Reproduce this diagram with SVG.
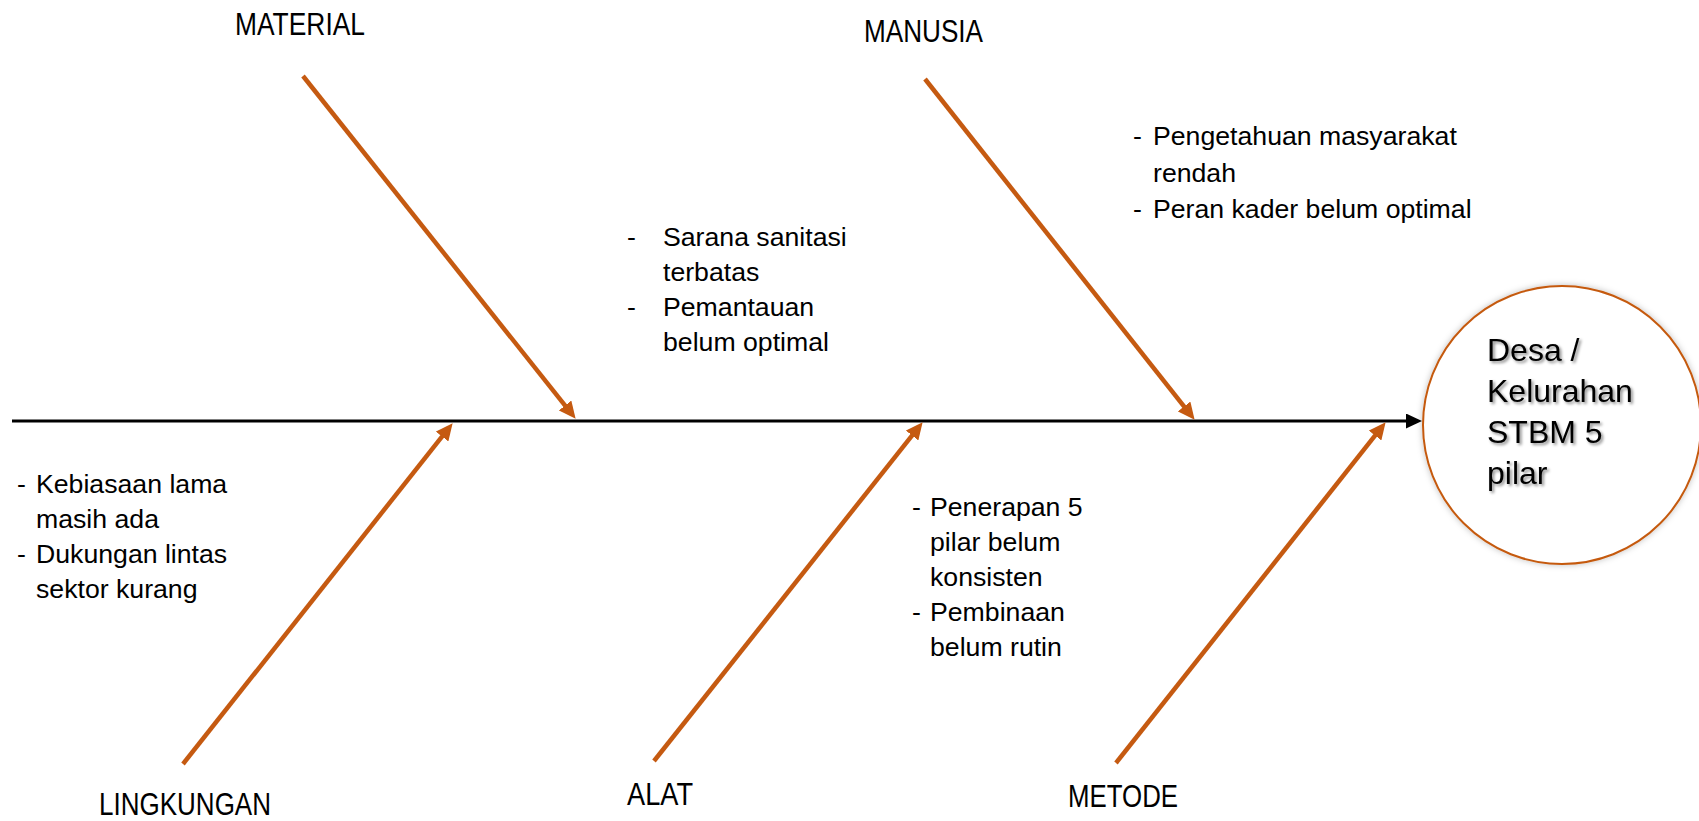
<svg xmlns="http://www.w3.org/2000/svg" width="1699" height="821" viewBox="0 0 1699 821">
  <style>
    .bone { stroke: #C55A11; stroke-width: 4.5; fill: none; marker-end: url(#headOrange); }
    .spine { stroke: #000; stroke-width: 3.2; fill: none; marker-end: url(#headBlack); }
    .cat { font-family: "Liberation Sans", Arial, sans-serif; font-size: 32px; fill: #000; }
    .note { font-family: "Liberation Sans", Arial, sans-serif; font-size: 26.67px; fill: #000; }
    .effect { font-family: "Liberation Sans", Arial, sans-serif; font-size: 32px; fill: #000; filter: url(#textShadow); }
  </style>
  <defs>
    <marker id="headOrange" markerUnits="userSpaceOnUse" markerWidth="17" markerHeight="16" refX="11" refY="8" orient="auto">
      <path d="M0,0 L17,8 L0,16 Z" fill="#C55A11"/>
    </marker>
    <marker id="headBlack" markerUnits="userSpaceOnUse" markerWidth="16" markerHeight="15" refX="2" refY="7.5" orient="auto">
      <path d="M0,0 L16,7.5 L0,15 Z" fill="#000"/>
    </marker>
    <filter id="textShadow" x="-20%" y="-40%" width="140%" height="180%">
      <feDropShadow dx="2" dy="2" stdDeviation="1.8" flood-color="#000" flood-opacity="0.45"/>
    </filter>
    <filter id="circleShadow" x="-20%" y="-20%" width="140%" height="140%">
      <feDropShadow dx="0" dy="0" stdDeviation="3" flood-color="#000" flood-opacity="0.25"/>
    </filter>
  </defs>

  <rect width="1699" height="821" fill="#fff"/>

  <!-- spine and cause bones -->
  <g id="connectors">
    <line class="spine" x1="12" y1="421" x2="1408" y2="421"/>
    <line class="bone" x1="303" y1="76" x2="571.9" y2="414.1"/>
    <line class="bone" x1="925" y1="79" x2="1190.9" y2="415.1"/>
    <line class="bone" x1="183" y1="764" x2="448.9" y2="427.9"/>
    <line class="bone" x1="654" y1="761" x2="918.9" y2="426.9"/>
    <line class="bone" x1="1116" y1="763" x2="1381.9" y2="426.9"/>
  </g>

  <!-- effect head -->
  <g id="effect">
    <circle cx="1562" cy="425" r="139" fill="#fff" stroke="#C55A11" stroke-width="2" filter="url(#circleShadow)"/>
    <text class="effect" x="1487" y="361">Desa /</text>
    <text class="effect" x="1487" y="402">Kelurahan</text>
    <text class="effect" x="1487" y="443">STBM 5</text>
    <text class="effect" x="1487" y="484">pilar</text>
  </g>

  <!-- category labels -->
  <g id="material">
    <text class="cat" x="235" y="35" textLength="130" lengthAdjust="spacingAndGlyphs">MATERIAL</text>
  </g>
  <g id="manusia">
    <text class="cat" x="864" y="42" textLength="119" lengthAdjust="spacingAndGlyphs">MANUSIA</text>
  </g>
  <g id="lingkungan">
    <text class="cat" x="99" y="815" textLength="172" lengthAdjust="spacingAndGlyphs">LINGKUNGAN</text>
  </g>
  <g id="alat">
    <text class="cat" x="627" y="805" textLength="66" lengthAdjust="spacingAndGlyphs">ALAT</text>
  </g>
  <g id="metode">
    <text class="cat" x="1068" y="807" textLength="110" lengthAdjust="spacingAndGlyphs">METODE</text>
  </g>

  <!-- cause notes -->
  <g id="notes-material">
    <text class="note" x="627" y="246">-</text>
    <text class="note" x="663" y="246">Sarana sanitasi</text>
    <text class="note" x="663" y="281">terbatas</text>
    <text class="note" x="627" y="316">-</text>
    <text class="note" x="663" y="316">Pemantauan</text>
    <text class="note" x="663" y="351">belum optimal</text>
  </g>
  <g id="notes-manusia">
    <text class="note" x="1133" y="145">-</text>
    <text class="note" x="1153" y="145">Pengetahuan masyarakat</text>
    <text class="note" x="1153" y="182">rendah</text>
    <text class="note" x="1133" y="218">-</text>
    <text class="note" x="1153" y="218">Peran kader belum optimal</text>
  </g>
  <g id="notes-lingkungan">
    <text class="note" x="17" y="493">-</text>
    <text class="note" x="36" y="493">Kebiasaan lama</text>
    <text class="note" x="36" y="528">masih ada</text>
    <text class="note" x="17" y="563">-</text>
    <text class="note" x="36" y="563">Dukungan lintas</text>
    <text class="note" x="36" y="598">sektor kurang</text>
  </g>
  <g id="notes-alat">
    <text class="note" x="912" y="516">-</text>
    <text class="note" x="930" y="516">Penerapan 5</text>
    <text class="note" x="930" y="551">pilar belum</text>
    <text class="note" x="930" y="586">konsisten</text>
    <text class="note" x="912" y="621">-</text>
    <text class="note" x="930" y="621">Pembinaan</text>
    <text class="note" x="930" y="656">belum rutin</text>
  </g>
</svg>
